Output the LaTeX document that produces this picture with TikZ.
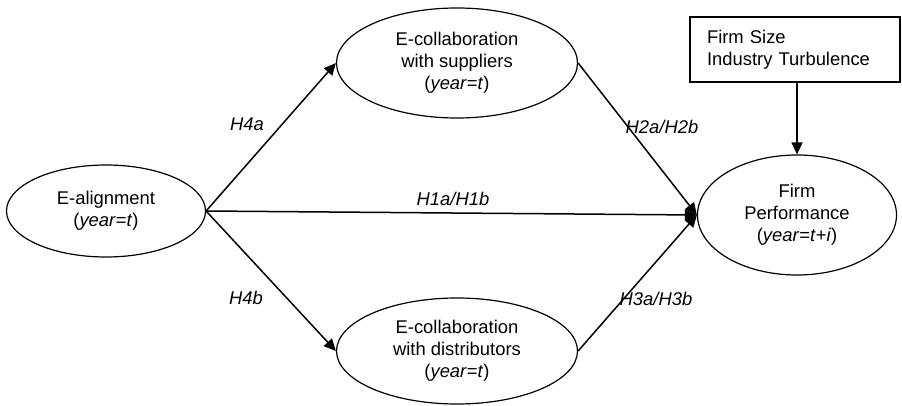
\documentclass[tikz,border=0pt]{standalone}
\usepackage{fontspec}
\setmainfont{Liberation Sans}
\usetikzlibrary{shapes.geometric,arrows.meta}
\begin{document}
\begin{tikzpicture}[x=1pt,y=-1pt,
  every node/.style={font=\fontsize{18.4}{22}\selectfont},
  oval/.style={draw,ellipse,line width=1.2pt,inner sep=0pt,align=center},
  ctrlbox/.style={draw,rectangle,line width=1.2pt,inner xsep=17pt,inner ysep=0pt,text width=176pt,minimum height=65pt,align=left},
  link/.style={line width=1.5pt,-{Triangle[length=12pt,width=11pt]}},
  hlab/.style={font=\fontsize{18.4}{22}\selectfont\itshape}
]
\useasboundingbox (0,0) rectangle (902,406);
\node[oval,minimum width=199pt,minimum height=92pt] (ea) at (106,211) {E-alignment\\(\textit{year}=\textit{t})};
\node[oval,minimum width=241pt,minimum height=110pt] (sup) at (457,63) {E-collaboration\\with suppliers\\(\textit{year}=\textit{t})};
\node[oval,minimum width=241pt,minimum height=106pt] (dis) at (457,351) {E-collaboration\\with distributors\\(\textit{year}=\textit{t})};
\node[oval,minimum width=199pt,minimum height=120pt] (fp) at (797,215) {Firm\\Performance\\(\textit{year}=\textit{t}+\textit{i})};
\node[ctrlbox] (ctl) at (795,49.5) {Firm Size\\Industry Turbulence};
\draw[link] (ea.east) -- (sup.west);
\draw[link] (ea.east) -- (dis.west);
\draw[link] (ea.east) -- (fp.west);
\draw[link] (sup.east) -- (fp.west);
\draw[link] (dis.east) -- (fp.west);
\draw[link] (fp.north |- ctl.south) -- (fp.north);
\node[hlab] (l4a) at (247,124) {H4a};
\node[hlab] (l4b) at (246,298) {H4b};
\node[hlab] (l1) at (453,199) {\textit{H1a}/\textit{H1b}};
\node[hlab] (l2) at (662,127) {\textit{H2a}/\textit{H2b}};
\node[hlab] (l3) at (656,299) {\textit{H3a}/\textit{H3b}};
\end{tikzpicture}
\end{document}
